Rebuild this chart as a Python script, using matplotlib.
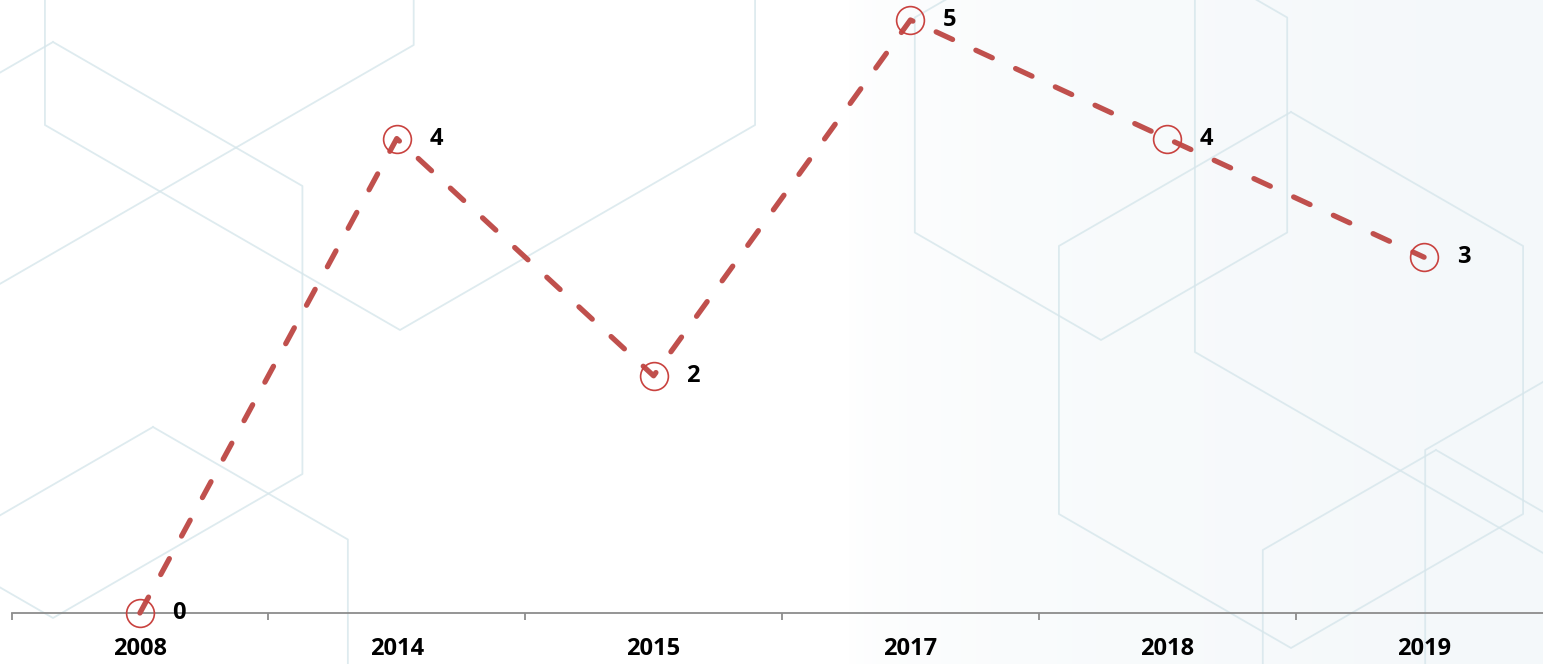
import numpy as np
import matplotlib
matplotlib.use("Agg")
import matplotlib.pyplot as plt
from matplotlib.colors import LinearSegmentedColormap

# ---- data ----
categories = ["2008", "2014", "2015", "2017", "2018", "2019"]
values = [0, 4, 2, 5, 4, 3]

# ---- decorative background hexagons (center x, center y, radius) in pixels ----
hex_cx = [400, 53, -2, 153, 1101, 1291, 1595, 1436, 1685]
hex_cy = [-80, 330, -195, 652, 125, 380, 121, 650, 600]
hex_r = [410, 288, 480, 225, 215, 268, 462, 200, 300]

W, H = 1543, 664
fig = plt.figure(figsize=(W / 100, H / 100), dpi=100)
fig.patch.set_facecolor("white")

# background layer
bg = fig.add_axes([0, 0, 1, 1], zorder=0)
bg.set_xlim(0, W)
bg.set_ylim(H, 0)
bg.axis("off")
grad = np.linspace(0, 1, 400)
grad = np.clip((grad - 0.55) / 0.45, 0, 1) ** 0.5
cmap = LinearSegmentedColormap.from_list("g", ["#ffffff", "#f4f8fa"])
bg.imshow(grad[np.newaxis, :], extent=[0, W, H, 0], cmap=cmap, aspect="auto",
          vmin=0, vmax=1, zorder=0)
ang = np.deg2rad(np.array([90, 30, -30, -90, -150, 150, 90]))
for cx, cy, r in zip(hex_cx, hex_cy, hex_r):
    xs = cx + r * np.cos(ang)
    ys = cy - r * np.sin(ang)
    bg.plot(xs, ys, color="#d6e6eb", lw=1.3, alpha=0.8, zorder=1)

# main axes
x0 = 11.5 / W
x1 = 1552.5 / W
ax = fig.add_axes([x0, 51 / H, x1 - x0, (613 - 20) / H], zorder=2)
ax.patch.set_alpha(0)

plt.rcParams["lines.scale_dashes"] = False
xs = np.arange(len(categories))
line, = ax.plot(xs, values, color="#C0504D", lw=3.8, linestyle=(0, (13.0, 18.5)),
                dash_capstyle="round", marker="o", markersize=20,
                markerfacecolor="none", markeredgecolor="#C9423F",
                markeredgewidth=1.2, clip_on=False, zorder=3)

for xi, v in zip(xs, values):
    ax.annotate(str(v), (xi, v), xytext=(23.5, 0), textcoords="offset points",
                ha="left", va="center", fontsize=17, fontweight="bold",
                family="Open Sans", color="black", zorder=4)

ax.set_xlim(-0.5, len(categories) - 0.5)
ax.set_ylim(0, 5)
ax.set_yticks([])
for s in ["top", "right", "left"]:
    ax.spines[s].set_visible(False)
ax.spines["bottom"].set_color("#8c8c8c")
ax.spines["bottom"].set_linewidth(1.3)

ax.set_xticks(xs)
ax.set_xticklabels(categories, fontsize=17, fontweight="bold", family="Open Sans")
ax.tick_params(axis="x", which="major", length=0, pad=17)
ax.set_xticks(np.arange(-0.5, len(categories)), minor=True)
ax.tick_params(axis="x", which="minor", length=5, width=1.3, color="#8c8c8c",
               direction="out")

fig.savefig("out.png", dpi=100, facecolor="white")
